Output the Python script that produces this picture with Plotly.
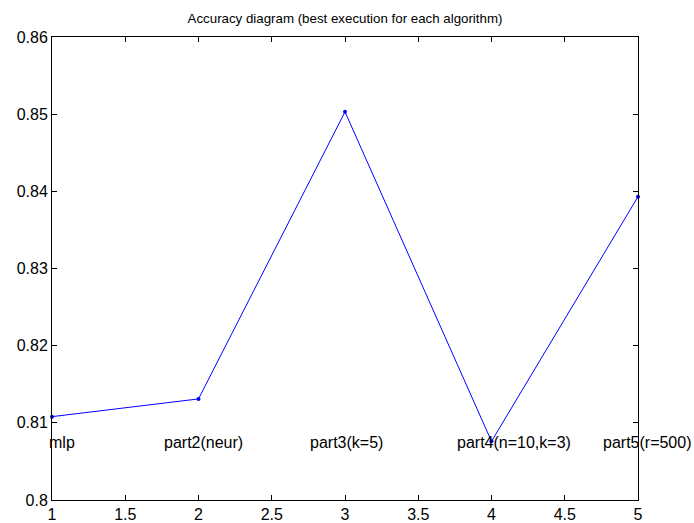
import plotly.graph_objects as go

x_vals = [1, 2, 3, 4, 5]
accuracy = [0.8108, 0.8131, 0.8503, 0.8076, 0.8393]
labels = ["mlp", "part2(neur)", "part3(k=5)", "part4(n=10,k=3)", "part5(r=500)"]
label_x = [0.966, 1.75, 2.75, 3.75, 4.745]
label_y = 0.8075
x_ticks = [1, 1.5, 2, 2.5, 3, 3.5, 4, 4.5, 5]
y_ticks = [0.8, 0.81, 0.82, 0.83, 0.84, 0.85, 0.86]

font = "Liberation Sans, Arial, sans-serif"
PX_PER_UNIT = 586 / 4.0

fig = go.Figure()
fig.add_trace(go.Scatter(
    x=x_vals, y=accuracy, mode="lines+markers",
    line=dict(color="#0000ff", width=1),
    marker=dict(color="#0000ff", size=4),
    showlegend=False, cliponaxis=False,
))

for lx, lt in zip(label_x, labels):
    ax = max(lx, x_vals[0])
    shift = (lx - ax) * PX_PER_UNIT
    fig.add_annotation(x=ax, y=label_y, text=lt, showarrow=False,
                       xanchor="left", yanchor="middle", xshift=shift,
                       font=dict(family=font, size=16, color="black"))

axis_common = dict(
    showline=True, linecolor="black", linewidth=1, mirror="ticks",
    ticks="inside", ticklen=5, tickcolor="black", showgrid=False,
    zeroline=False, automargin=False,
    tickfont=dict(family=font, size=16, color="black"),
)
fig.update_xaxes(range=[1, 5], tickvals=x_ticks,
                 ticktext=[f"{v:g}" for v in x_ticks], **axis_common)
fig.update_yaxes(range=[0.8, 0.86], tickvals=y_ticks,
                 ticktext=[f"{v:g}" for v in y_ticks], **axis_common)

fig.update_layout(
    width=694, height=523,
    margin=dict(l=52, r=56, t=37, b=23),
    paper_bgcolor="white", plot_bgcolor="white",
    title=dict(text="Accuracy diagram (best execution for each algorithm)",
               x=0.5, xref="paper", y=1 - 18 / 523, yanchor="middle",
               font=dict(family=font, size=13.3, color="black")),
)

fig.write_html(
    "out.html",
    config={"displayModeBar": False},
    post_script="document.body.style.margin='0';"
                "document.body.style.overflow='hidden';",
)
